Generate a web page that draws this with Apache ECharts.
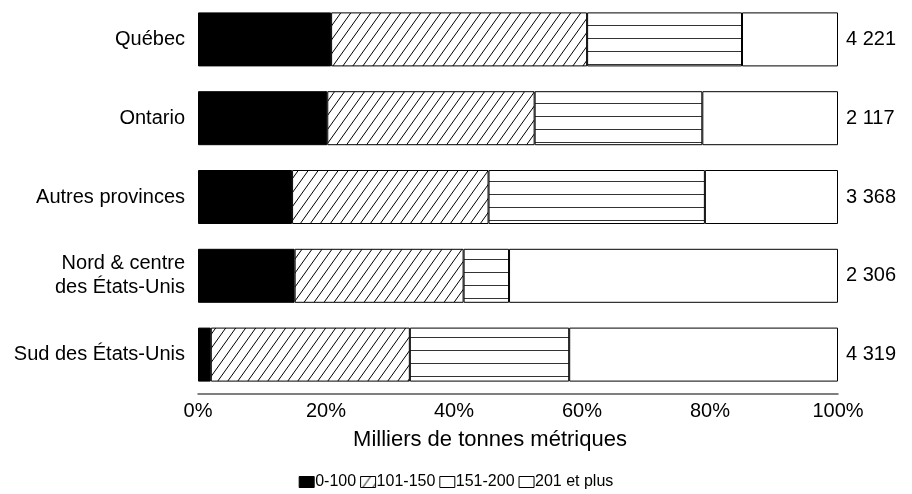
<!DOCTYPE html>
<html>
<head>
<meta charset="utf-8">
<script src="https://cdn.jsdelivr.net/npm/echarts@6/dist/echarts.min.js"></script>
<style>
  html, body { margin: 0; padding: 0; background: #fff; }
  #chart { width: 912px; height: 494px; }
</style>
</head>
<body>
<div id="chart"></div>
<script>
// régions (du haut vers le bas)
var regions = ['Québec', 'Ontario', 'Autres provinces', 'Nord & centre\ndes États-Unis', 'Sud des États-Unis'];
// totaux affichés à droite
var totals = ['4 221', '2 117', '3 368', '2 306', '4 319'];
var seriesNames = ['0-100', '101-150', '151-200', '201 et plus'];
// parts en % par classe
var part0_100 = [20.8, 20.2, 14.7, 15.1, 2.0];
var part101_150 = [40.0, 32.4, 30.7, 26.4, 31.1];
var part151_200 = [24.2, 26.2, 33.8, 7.1, 24.9];
var part201plus = [15.0, 21.2, 20.8, 51.4, 42.0];
var xTicks = [0, 20, 40, 60, 80, 100];

var FONT = 'Liberation Sans, Arial, sans-serif';

// motif hachuré diagonal
function makeDiag() {
  var c = document.createElement('canvas');
  c.width = 10; c.height = 14;
  var ctx = c.getContext('2d');
  ctx.fillStyle = '#fff';
  ctx.fillRect(0, 0, 10, 14);
  ctx.strokeStyle = '#000';
  ctx.lineWidth = 1;
  ctx.beginPath();
  ctx.moveTo(-1, 15.4); ctx.lineTo(11, -1.4);
  ctx.moveTo(-11, 15.4); ctx.lineTo(1, -1.4);
  ctx.moveTo(9, 15.4); ctx.lineTo(21, -1.4);
  ctx.stroke();
  return c;
}
// motif lignes horizontales
function makeHoriz() {
  var c = document.createElement('canvas');
  c.width = 8; c.height = 13;
  var ctx = c.getContext('2d');
  ctx.fillStyle = '#fff';
  ctx.fillRect(0, 0, 8, 13);
  ctx.fillStyle = '#333';
  ctx.fillRect(0, 12, 8, 1);
  return c;
}

var fills = [
  '#000',
  { image: makeDiag(), repeat: 'repeat' },
  { image: makeHoriz(), repeat: 'repeat' },
  '#fff'
];
var dataList = [part0_100, part101_150, part151_200, part201plus];

var myChart = echarts.init(document.getElementById('chart'));

var series = [];
for (var i = 0; i < seriesNames.length; i++) {
  series.push({
    name: seriesNames[i],
    type: 'bar',
    stack: 'total',
    barWidth: 54,
    data: dataList[i],
    itemStyle: { color: fills[i], borderColor: '#000', borderWidth: 1 },
    emphasis: { disabled: true },
    animation: false
  });
}

var option = {
  animation: false,
  textStyle: { fontFamily: FONT },
  grid: { left: 198, right: 74, top: 0, bottom: 100 },
  legend: {
    bottom: -1,
    left: 'center',
    icon: 'rect',
    itemWidth: 15,
    itemHeight: 11,
    itemGap: 4,
    textStyle: { fontSize: 16, color: '#000', fontFamily: FONT, padding: [0, 0, 0, -4] },
    data: seriesNames.map(function (n) {
      return { name: n, itemStyle: { borderColor: '#000', borderWidth: 1 } };
    })
  },
  xAxis: {
    type: 'value',
    min: 0,
    max: 100,
    interval: 20,
    name: 'Milliers de tonnes métriques',
    nameLocation: 'middle',
    nameGap: 35,
    // titre décalé vers la gauche comme dans l'original
    nameTextStyle: { fontSize: 22, color: '#000', fontFamily: FONT, padding: [0, 56, 0, 0] },
    axisLine: { show: true, lineStyle: { color: '#555', width: 1.5 } },
    axisTick: { show: false },
    splitLine: { show: false },
    axisLabel: {
      fontSize: 20, color: '#000', margin: 7,
      formatter: function (v) { return xTicks.indexOf(v) >= 0 ? v + '%' : ''; }
    }
  },
  yAxis: [{
    type: 'category',
    inverse: true,
    data: regions,
    axisLine: { show: false },
    axisTick: { show: false },
    axisLabel: { fontSize: 20, color: '#000', margin: 13, lineHeight: 24, align: 'right' }
  }, {
    type: 'category',
    inverse: true,
    position: 'right',
    data: totals,
    axisLine: { show: false },
    axisTick: { show: false },
    axisLabel: { fontSize: 20, color: '#000', margin: 8, align: 'left' }
  }],
  series: series
};

myChart.setOption(option);
</script>
</body>
</html>
